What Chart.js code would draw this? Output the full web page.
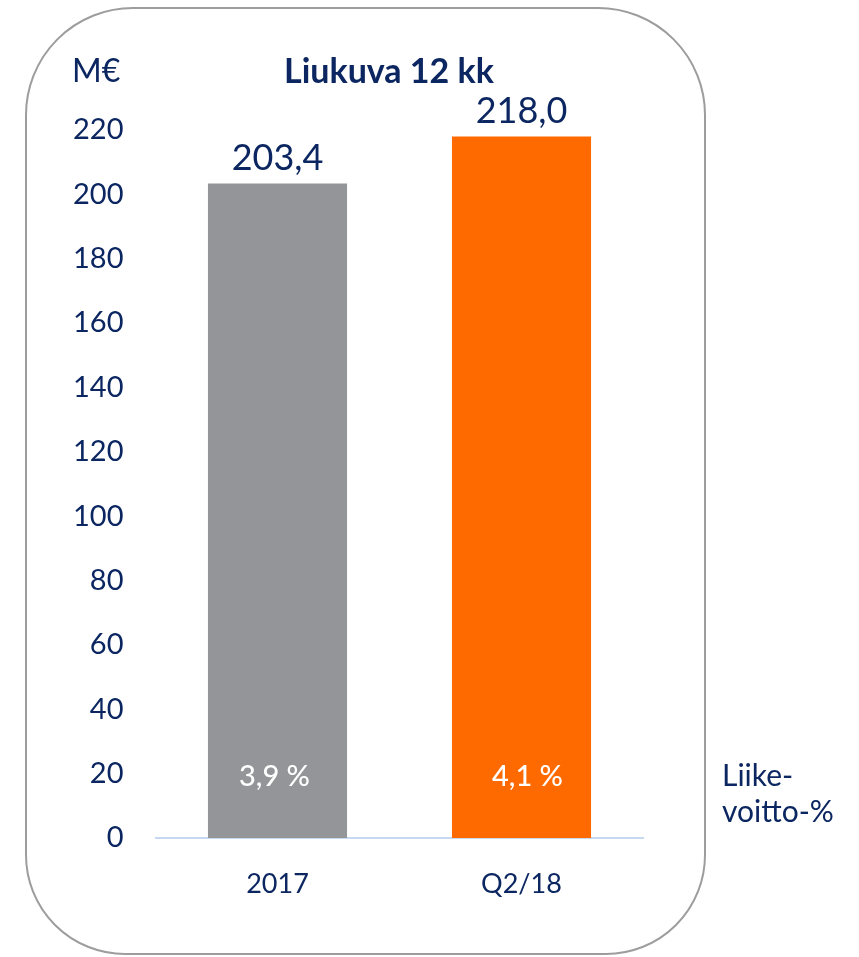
<!DOCTYPE html>
<html>
<head>
<meta charset="utf-8">
<script src="https://cdn.jsdelivr.net/npm/chart.js@4.4.1/dist/chart.umd.min.js"></script>
<style>
  body { margin: 0; background: #fff; font-family: Lato, "Open Sans", sans-serif; }
  #wrap { position: relative; width: 859px; height: 957px; overflow: hidden; }
  #box { position: absolute; left: 25px; top: 7px; width: 677px; height: 944px;
         border: 2px solid #9d9d9d; border-radius: 108px 108px 100px 100px; box-sizing: content-box; }
  canvas { position: absolute; left: 0; top: 0; }
  .txt { position: absolute; color: #0b2660; white-space: nowrap; }
  #unit { left: 72px; top: 50px; font-size: 32px; }
  #title { left: 284px; top: 49px; font-size: 34px; font-weight: bold; }
  #side { left: 722px; top: 756px; font-size: 30px; line-height: 36px; }
</style>
</head>
<body>
<div id="wrap">
  <div id="box"></div>
  <canvas id="chart" width="859" height="957"></canvas>
  <div class="txt" id="unit">M€</div>
  <div class="txt" id="title">Liukuva 12 kk</div>
  <div class="txt" id="side">Liike-<br>voitto-%</div>
</div>
<script>
// Liikevoitto, liukuva 12 kk
var kaudet = ['2017', 'Q2/18'];
var liikevoitto = [203.4, 218.0];
var liikevoittoPros = [3.9, 4.1];
var varit = ['#939598', '#ff6a00'];
var yTicks = [0, 20, 40, 60, 80, 100, 120, 140, 160, 180, 200, 220];

var navy = '#0b2660';

function fi(v, d) {
    return v.toFixed(d).replace('.', ',');
}

// arvot palkkien päälle ja sisään
var arvoPlugin = {
    id: 'arvot',
    afterDatasetsDraw: function(chart) {
        var ctx = chart.ctx;
        var meta = chart.getDatasetMeta(0);
        ctx.save();
        ctx.textAlign = 'center';
        meta.data.forEach(function(bar, i) {
            ctx.fillStyle = navy;
            ctx.font = '36px Lato, "Open Sans", sans-serif';
            ctx.textBaseline = 'alphabetic';
            ctx.fillText(fi(liikevoitto[i], 1), bar.x, bar.y - 13);

            ctx.fillStyle = '#ffffff';
            ctx.font = '500 29px Lato, "Open Sans", sans-serif';
            ctx.textBaseline = 'middle';
            ctx.fillText(fi(liikevoittoPros[i], 1) + ' %', bar.x + (i ? 6 : -3), bar.base - 61);
        });
        ctx.restore();
    }
};

var ctx = document.getElementById('chart').getContext('2d');
var chart = new Chart(ctx, {
    type: 'bar',
    data: {
        labels: kaudet,
        datasets: [{
            data: liikevoitto,
            backgroundColor: varit,
            borderWidth: 0,
            barPercentage: 0.57,
            categoryPercentage: 1
        }]
    },
    options: {
        responsive: false,
        animation: false,
        layout: { padding: { top: 130, right: 215.5, bottom: 0, left: 0 } },
        plugins: {
            legend: { display: false },
            tooltip: { enabled: false }
        },
        scales: {
            x: {
                grid: { display: false },
                border: { display: true, color: '#c5d9f1', width: 2 },
                ticks: {
                    color: navy,
                    font: { family: 'Lato, "Open Sans", sans-serif', size: 27 },
                    padding: 22
                },
                afterFit: function(s) { s.height = 119; }
            },
            y: {
                min: 0,
                max: 220,
                grid: { display: false },
                border: { display: false },
                afterBuildTicks: function(s) {
                    s.ticks = yTicks.map(function(v) { return { value: v }; });
                },
                ticks: {
                    color: navy,
                    font: { family: 'Lato, "Open Sans", sans-serif', size: 29 },
                    padding: 24
                },
                afterFit: function(s) { s.width = 155.5; }
            }
        }
    },
    plugins: [arvoPlugin]
});
</script>
</body>
</html>
